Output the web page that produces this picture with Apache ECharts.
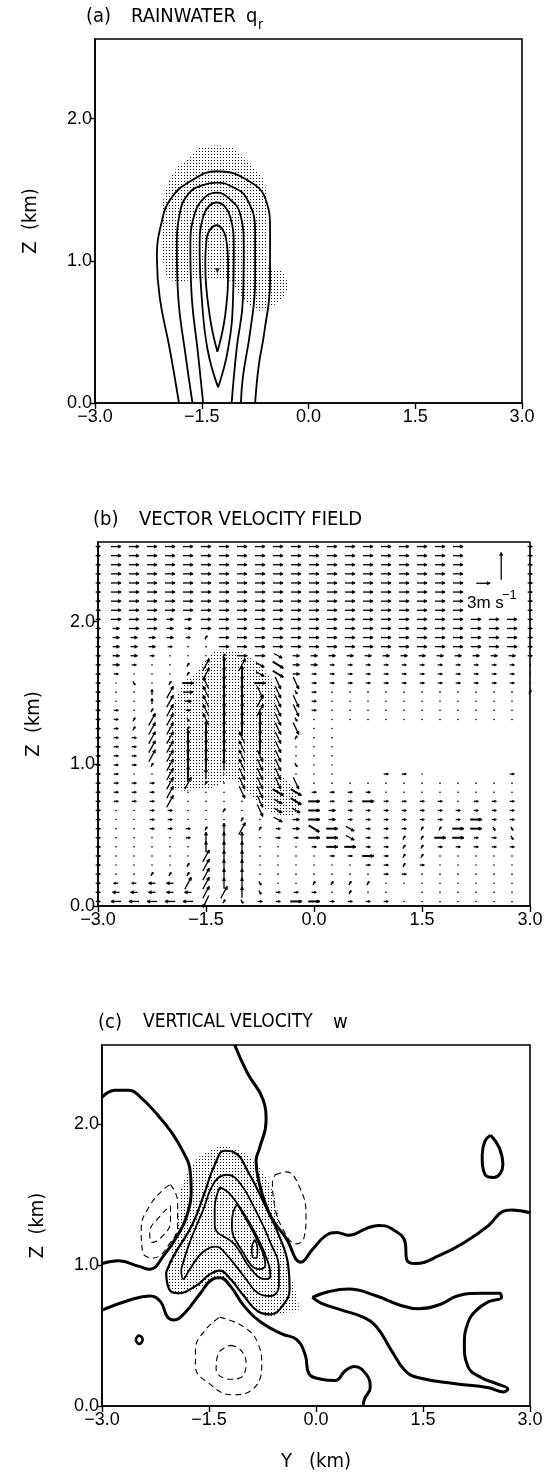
<!DOCTYPE html>
<html>
<head>
<meta charset="utf-8">
<script src="https://cdn.jsdelivr.net/npm/echarts@6.0.0/dist/echarts.min.js"></script>
<style>
html, body { margin: 0; padding: 0; background: #fff; }
#chart { width: 548px; height: 1476px; }
</style>
</head>
<body>
<div id="chart"></div>
<script>
// axis ticks
var xTicks = [-3, -1.5, 0, 1.5, 3];
var zTicks = [0, 1, 2];

// (a) rainwater contours, [Y km, Z km]
var qr1 = [[-1.82,0],[-1.95,0.38],[-2.09,0.74],[-2.13,1.02],[-2.06,1.28],[-1.93,1.44],[-1.66,1.56],[-1.29,1.63],[-0.87,1.57],[-0.60,1.43],[-0.54,1.21],[-0.54,0.86],[-0.62,0.50],[-0.70,0.26],[-0.75,0]];
var qr2 = [[-1.63,0],[-1.74,0.38],[-1.83,0.74],[-1.85,1.09],[-1.81,1.33],[-1.69,1.47],[-1.50,1.53],[-1.29,1.55],[-1.07,1.52],[-0.87,1.44],[-0.75,1.21],[-0.75,0.86],[-0.82,0.50],[-0.92,0.19],[-0.95,0]];
var qr3 = [[-1.48,0],[-1.56,0.38],[-1.64,0.74],[-1.66,1.09],[-1.60,1.33],[-1.45,1.45],[-1.29,1.48],[-1.12,1.44],[-0.96,1.33],[-0.91,1.09],[-0.92,0.74],[-1.01,0.38],[-1.08,0]];
var qr4 = [[-1.27,0.11],[-1.42,0.38],[-1.50,0.74],[-1.53,1.09],[-1.48,1.31],[-1.29,1.41],[-1.10,1.31],[-1.05,1.09],[-1.06,0.74],[-1.13,0.38],[-1.27,0.11]];
var qr5 = [[-1.28,0.36],[-1.39,0.62],[-1.45,0.97],[-1.43,1.16],[-1.29,1.25],[-1.16,1.16],[-1.13,0.97],[-1.17,0.62],[-1.28,0.36]];
var qrMax = [[-1.28, 0.93]];
var cloudA = [[-1.50,1.80],[-1.10,1.80],[-0.85,1.70],[-0.62,1.55],[-0.57,1.20],[-0.55,0.95],[-0.35,0.92],[-0.30,0.80],[-0.40,0.72],[-0.65,0.65],[-0.75,0.66],[-0.95,0.75],[-1.10,0.86],[-1.45,0.87],[-1.95,0.87],[-2.05,1.05],[-2.05,1.40],[-1.90,1.62],[-1.70,1.72]];

// (b) vector field: columns Y = -3.0 .. 3.0 step 0.25, rows Z = 2.528 .. 0.032 step 0.064
var colY = [-3,-2.75,-2.5,-2.25,-2,-1.75,-1.5,-1.25,-1,-0.75,-0.5,-0.25,0,0.25,0.5,0.75,1,1.25,1.5,1.75,2,2.25,2.5,2.75,3];
var rowZ = [2.528,2.464,2.4,2.336,2.272,2.208,2.144,2.08,2.016,1.952,1.888,1.824,1.76,1.696,1.632,1.568,1.504,1.44,1.376,1.312,1.248,1.184,1.12,1.056,0.992,0.928,0.864,0.8,0.736,0.672,0.608,0.544,0.48,0.416,0.352,0.288,0.224,0.16,0.096,0.032];
// one code per arrow
var vecRows = [
  "->>>>>>>>>>>>>>>>>>>>   -",
  "->>>>>>>>>>>>>>>>>>>>   -",
  "->>>>>>>>>>>>>>>>>>>>   -",
  "->>>>>>>>>>>>>>>>>>>>   -",
  "->>>>>>>>>>>>>>>>>>>>   -",
  "->>>>>>>>>>>>>>>>>>>>   -",
  "->>>>>>>>>>>>>>>>>>>>   -",
  "->>>>>>>>>>>>>>>>>>>>   -",
  "->>>==>>>>>>>>>>>>>>>>>>-",
  "-=>>==>>>>>>>>>>>>>>>>>>-",
  "-====-,>>>>>>>>>>>>>>>>>-",
  "-===-..>>>>>>>>>>>>>>>>>-",
  "-==-...,>>v=============-",
  "-=-..,/|/vV==-----------.",
  "--...,/||vV=------------.",
  "-.l.,#j||#kk------------.",
  "-..i/>j||kkl-...........,",
  "-..i/=j||/kk-........... ",
  "--.,/-j||/kk-........... ",
  "--,//lj|||kl............ ",
  "--,//,||||kk..           ",
  "---//|||j|k,..           ",
  "---//|||j|k...           ",
  "---//|||jkk...           ",
  "---,/||!jkkl..           ",
  "--../|!.kkk...  --.    - ",
  "----//,.kkkk............ ",
  "----/...kkVV----........ ",
  "----/....kvV#--#----.--- ",
  "-..--..,.kvv#=---------- ",
  "-..--...,.v=#=-------#-- ",
  "-..---,!/,-=V#v---,,##ll ",
  "-....-!!!.--##v--,,##--l ",
  "-.....!!!...-##--,,----- ",
  "-...../!!....--#-,,..... ",
  "-....,/!!......--,-..... ",
  "-..,,,/!!.......--...... ",
  "-~~{{//!!l..,,,,........ ",
  "-{{{{{//!l---.,.. ...... ",
  "-<<<<<d,l--##----....... "
];
// code -> [u, w] in m/s
var vecCode = {
  '.': [0, 0], '-': [1.0, 0], '=': [1.5, 0], '>': [2.2, 0], '#': [2.5, 0],
  '<': [-2.2, 0], '~': [-1.0, 0], '{': [-1.5, 0],
  '|': [0.1, 1.7], '!': [0, 1.2], 'i': [0, 0.6],
  '/': [1.4, 1.3], ',': [0.5, 0.4], 'k': [1.2, -1.3], 'l': [0.5, -0.4],
  'j': [-1.2, 1.3], 'd': [-1.2, -1.3], 'v': [1.8, -0.5], 'V': [2.3, -0.7]
};
var heavyCodes = '#V|';
var legendVec = [[2.35, 2.27, 3, 0], [2.60, 2.39, 0, 3]];
var cloudB = [[-1.33,1.80],[-1.04,1.79],[-0.75,1.70],[-0.60,1.60],[-0.53,1.51],[-0.52,1.20],[-0.50,0.95],[-0.31,0.85],[-0.21,0.70],[-0.30,0.64],[-0.60,0.66],[-0.94,0.80],[-1.14,0.89],[-1.43,0.83],[-1.97,0.83],[-2.02,1.04],[-1.97,1.39],[-1.82,1.56],[-1.63,1.65],[-1.48,1.74]];

// (c) vertical velocity contours
var wZeroA = [[-1.14,2.56],[-0.96,2.36],[-0.74,2.17],[-0.70,2.02],[-0.79,1.83],[-0.84,1.74],[-0.80,1.59],[-0.64,1.35],[-0.42,1.19],[-0.21,1.02],[-0.05,1.11],[0.14,1.21],[0.29,1.23],[0.46,1.21],[0.71,1.26],[0.88,1.28],[1.05,1.26],[1.25,1.16],[1.27,1.04],[1.39,1.01],[1.74,1.07],[2.08,1.16],[2.42,1.28],[2.62,1.38],[2.74,1.39],[3.0,1.37]];
var wZeroB = [[-3.0,2.19],[-2.82,2.24],[-2.62,2.24],[-2.48,2.20],[-2.23,2.07],[-2.01,1.93],[-1.84,1.78],[-1.77,1.69],[-1.75,1.54],[-1.81,1.35],[-1.94,1.21],[-2.13,1.07],[-2.33,0.97],[-2.48,0.99],[-2.77,1.03],[-3.0,1.01]];
var wZeroC = [[-3.0,0.68],[-2.62,0.75],[-2.33,0.78],[-2.18,0.74],[-2.08,0.63],[-1.99,0.61],[-1.84,0.66],[-1.62,0.80],[-1.45,0.90],[-1.35,0.91],[-1.20,0.85],[-1.01,0.71],[-0.76,0.59],[-0.47,0.51],[-0.27,0.47],[-0.15,0.36],[-0.10,0.23],[0.07,0.19],[0.27,0.18],[0.41,0.25],[0.54,0.28],[0.71,0.22],[0.76,0.13],[0.68,0.05],[0.66,0]];
var wZeroD = [[-0.05,0.77],[0.17,0.81],[0.46,0.83],[0.85,0.78],[1.15,0.72],[1.44,0.69],[1.74,0.72],[1.98,0.78],[2.32,0.80],[2.57,0.80],[2.60,0.77],[2.42,0.74],[2.25,0.68],[2.13,0.59],[2.08,0.44],[2.13,0.28],[2.32,0.20],[2.52,0.16],[2.69,0.12],[2.62,0.10],[2.42,0.13],[1.93,0.16],[1.44,0.20],[1.25,0.25],[1.05,0.40],[0.85,0.56],[0.66,0.63],[0.36,0.68],[0.07,0.73],[-0.05,0.77]];
var wZeroE = [[2.45,1.92],[2.57,1.83],[2.62,1.71],[2.49,1.62],[2.37,1.64],[2.33,1.78],[2.37,1.88],[2.45,1.92]];
var wZeroF = [[-2.53,0.47],[-2.48,0.50],[-2.43,0.47],[-2.48,0.44],[-2.53,0.47]];
var wPos1 = [[-2.10,0.95],[-1.99,1.07],[-1.74,1.28],[-1.57,1.50],[-1.42,1.71],[-1.28,1.81],[-1.15,1.80],[-0.93,1.64],[-0.74,1.45],[-0.52,1.21],[-0.39,1.0],[-0.37,0.83],[-0.47,0.71],[-0.64,0.65],[-0.81,0.67],[-1.01,0.78],[-1.20,0.90],[-1.35,0.96],[-1.50,0.93],[-1.69,0.85],[-1.94,0.80],[-2.06,0.83],[-2.10,0.95]];
var wPos2 = [[-1.89,0.97],[-1.77,1.16],[-1.59,1.38],[-1.42,1.59],[-1.25,1.64],[-1.08,1.59],[-0.86,1.40],[-0.64,1.16],[-0.52,0.97],[-0.52,0.85],[-0.64,0.78],[-0.81,0.80],[-1.01,0.92],[-1.25,1.07],[-1.40,1.13],[-1.59,1.09],[-1.77,0.97],[-1.86,0.90],[-1.89,0.97]];
var wPos3 = [[-1.35,1.55],[-1.20,1.50],[-0.91,1.28],[-0.71,1.07],[-0.64,0.92],[-0.71,0.90],[-0.91,0.97],[-1.13,1.14],[-1.42,1.28],[-1.42,1.40],[-1.35,1.55]];
var wPos4 = [[-1.10,1.43],[-1.01,1.35],[-0.81,1.16],[-0.71,1.00],[-0.79,0.97],[-1.06,1.12],[-1.18,1.28],[-1.16,1.38],[-1.10,1.43]];
var wPos5 = [[-0.86,1.18],[-0.82,1.12],[-0.83,1.05],[-0.88,1.05],[-0.90,1.12],[-0.86,1.18]];
var wNeg1 = [[-2.04,1.57],[-1.94,1.45],[-1.94,1.28],[-2.04,1.16],[-2.28,1.05],[-2.43,1.09],[-2.45,1.26],[-2.33,1.42],[-2.13,1.54],[-2.04,1.57]];
var wNeg2 = [[-2.04,1.42],[-2.04,1.31],[-2.18,1.19],[-2.30,1.16],[-2.33,1.23],[-2.18,1.35],[-2.04,1.42]];
var wNeg3 = [[-0.57,1.64],[-0.42,1.66],[-0.22,1.54],[-0.14,1.35],[-0.17,1.19],[-0.27,1.15],[-0.47,1.26],[-0.59,1.45],[-0.61,1.59],[-0.57,1.64]];
var wNeg4 = [[-1.35,0.63],[-1.01,0.56],[-0.81,0.44],[-0.76,0.28],[-0.91,0.11],[-1.18,0.08],[-1.50,0.16],[-1.69,0.28],[-1.69,0.40],[-1.55,0.54],[-1.35,0.63]];
var wNeg5 = [[-1.20,0.43],[-1.06,0.40],[-0.98,0.30],[-1.06,0.20],[-1.20,0.19],[-1.40,0.26],[-1.37,0.37],[-1.20,0.43]];
var cloudC = [[-1.29,1.84],[-1.00,1.79],[-0.75,1.66],[-0.57,1.47],[-0.48,1.15],[-0.35,0.92],[-0.28,0.80],[-0.25,0.68],[-0.45,0.66],[-0.71,0.64],[-0.95,0.76],[-1.20,0.88],[-1.40,0.91],[-1.55,0.86],[-1.90,0.79],[-2.08,0.85],[-2.05,1.05],[-1.94,1.30],[-1.89,1.54],[-1.69,1.74],[-1.50,1.81]];

var K = 0.064; // km of arrow per m/s
var FONT = '"DejaVu Sans Condensed", "Liberation Sans Narrow", "Liberation Sans", sans-serif';
var NUMFONT = '"Liberation Sans", "DejaVu Sans", sans-serif';

var dom = document.getElementById('chart');
var myChart = echarts.init(dom, null, { renderer: 'canvas' });

// dot pattern for the shaded cloud area
var pc = document.createElement('canvas');
pc.width = 3; pc.height = 3;
var g = pc.getContext('2d');
g.fillStyle = '#000';
g.fillRect(1, 1, 1, 1);
var dots = { image: pc, repeat: 'repeat' };

function fmt(v) {
    return (v < 0 ? '\u2212' : '') + Math.abs(v).toFixed(1);
}

function xAx(gi, name) {
    return {
        type: 'value', gridIndex: gi, min: -3, max: 3, interval: 1.5,
        name: name || '', nameLocation: 'middle', nameGap: 46,
        nameTextStyle: { color: '#000', fontSize: 20, fontFamily: FONT },
        axisLine: { onZero: false, lineStyle: { color: '#000', width: 1.6 } },
        axisTick: { length: 6, lineStyle: { color: '#000', width: 1.4 } },
        axisLabel: { color: '#000', fontSize: 18, fontFamily: NUMFONT, margin: 5, formatter: fmt },
        splitLine: { show: false }
    };
}

function zAx(gi) {
    return {
        type: 'value', gridIndex: gi, min: 0, max: 2.56, interval: 1,
        name: 'Z  (km)', nameLocation: 'middle', nameGap: 54, nameRotate: 90,
        nameTextStyle: { color: '#000', fontSize: 20, fontFamily: FONT },
        axisLine: { onZero: false, lineStyle: { color: '#000', width: 1.6 } },
        axisTick: { length: 5, customValues: zTicks, lineStyle: { color: '#000', width: 1.4 } },
        axisLabel: { color: '#000', fontSize: 18, fontFamily: NUMFONT, margin: 3, customValues: zTicks, formatter: fmt },
        splitLine: { show: false }
    };
}

function contour(gi, data, w, dashed) {
    return {
        type: 'line', xAxisIndex: gi, yAxisIndex: gi, data: data,
        smooth: 0.45, showSymbol: false, symbol: 'none', silent: true, z: 4,
        lineStyle: { color: '#000', width: w, type: dashed ? [6, 4] : 'solid' }
    };
}

function shade(gi, poly) {
    return {
        type: 'custom', xAxisIndex: gi, yAxisIndex: gi, silent: true, z: 2,
        data: [poly[0]],
        renderItem: function (params, api) {
            var pts = poly.map(function (p) { return api.coord(p); });
            return { type: 'polygon', shape: { points: pts, smooth: 0.3 }, style: { fill: dots } };
        }
    };
}

function renderVec(params, api) {
    var y = api.value(0), z = api.value(1), u = api.value(2), w = api.value(3), hv = api.value(4);
    var a = api.coord([y - u * K / 2, z - w * K / 2]);
    var b = api.coord([y + u * K / 2, z + w * K / 2]);
    var dx = b[0] - a[0], dy = b[1] - a[1];
    var L = Math.sqrt(dx * dx + dy * dy);
    if (L < 1.5) {
        var c = api.coord([y, z]);
        return { type: 'circle', shape: { cx: c[0], cy: c[1], r: 0.8 }, style: { fill: '#000' } };
    }
    var ux = dx / L, uy = dy / L, h = Math.min(3.2, 0.45 * L);
    var cs = Math.cos(0.5), sn = Math.sin(0.5);
    var h1 = [b[0] - h * (ux * cs - uy * sn), b[1] - h * (uy * cs + ux * sn)];
    var h2 = [b[0] - h * (ux * cs + uy * sn), b[1] - h * (uy * cs - ux * sn)];
    return {
        type: 'group',
        children: [
            { type: 'line', shape: { x1: a[0], y1: a[1], x2: b[0], y2: b[1] }, style: { stroke: '#000', lineWidth: hv ? 2.0 : 1.3 } },
            { type: 'polygon', shape: { points: [h1, b, h2] }, style: { fill: '#000', stroke: '#000', lineWidth: 0.8 } }
        ]
    };
}

// vector table from the row codes
var vecData = [];
vecRows.forEach(function (row, r) {
    for (var k = 0; k < colY.length; k++) {
        var ch = row.charAt(k);
        if (!ch || ch === ' ' || !vecCode[ch]) continue;
        vecData.push([colY[k], rowZ[r], vecCode[ch][0], vecCode[ch][1], heavyCodes.indexOf(ch) >= 0 ? 1 : 0]);
    }
});
var legendData = legendVec.map(function (v) { return [v[0], v[1], v[2], v[3], 0]; });

function txt(x, y, s, size, font) {
    return { type: 'text', left: x, top: y, silent: true, style: { text: s, font: size + 'px ' + (font || FONT), fill: '#000' } };
}

var option = {
    animation: false,
    backgroundColor: '#fff',
    grid: [
        { left: 95, top: 39, width: 427, height: 364, show: true, borderColor: '#000', borderWidth: 1.6, outerBoundsMode: 'none' },
        { left: 98, top: 542, width: 432, height: 364, show: true, borderColor: '#000', borderWidth: 1.6, outerBoundsMode: 'none' },
        { left: 102, top: 1045, width: 428, height: 361, show: true, borderColor: '#000', borderWidth: 1.6, outerBoundsMode: 'none' }
    ],
    xAxis: [xAx(0), xAx(1), xAx(2, 'Y   (km)')],
    yAxis: [zAx(0), zAx(1), zAx(2)],
    graphic: [
        txt(86, 7, '(a)', 20), txt(131, 7, 'RAINWATER', 20), txt(246, 7, 'q', 20), txt(258, 18, 'r', 14),
        txt(93, 510, '(b)', 20), txt(139, 510, 'VECTOR VELOCITY FIELD', 20),
        txt(467, 595, '3m s', 17, NUMFONT), txt(502, 589, '\u22121', 13, NUMFONT),
        txt(98, 1013, '(c)', 20), txt(143, 1013, 'VERTICAL VELOCITY', 19), txt(333, 1013, 'w', 20)
    ],
    series: [
        shade(0, cloudA),
        contour(0, qr1, 1.8), contour(0, qr2, 1.8), contour(0, qr3, 1.8), contour(0, qr4, 1.8), contour(0, qr5, 1.8),
        {
            type: 'scatter', xAxisIndex: 0, yAxisIndex: 0, data: qrMax, symbol: 'triangle',
            symbolRotate: 180, symbolSize: 5, itemStyle: { color: '#000' }, silent: true, z: 5
        },
        shade(1, cloudB),
        {
            type: 'custom', xAxisIndex: 1, yAxisIndex: 1, data: vecData, silent: true, z: 5, clip: false,
            dimensions: ['y', 'z', 'u', 'w', 'heavy'], encode: { x: 0, y: 1 }, renderItem: renderVec
        },
        {
            type: 'custom', xAxisIndex: 1, yAxisIndex: 1, data: legendData, silent: true, z: 5,
            dimensions: ['y', 'z', 'u', 'w', 'heavy'], encode: { x: 0, y: 1 }, renderItem: renderVec
        },
        shade(2, cloudC),
        contour(2, wZeroA, 3), contour(2, wZeroB, 3), contour(2, wZeroC, 3), contour(2, wZeroD, 3),
        contour(2, wZeroE, 3), contour(2, wZeroF, 2.6),
        contour(2, wPos1, 2.2), contour(2, wPos2, 1.8), contour(2, wPos3, 1.8), contour(2, wPos4, 1.8), contour(2, wPos5, 1.6),
        contour(2, wNeg1, 1.1, true), contour(2, wNeg2, 1.1, true), contour(2, wNeg3, 1.1, true),
        contour(2, wNeg4, 1.1, true), contour(2, wNeg5, 1.1, true)
    ]
};
myChart.setOption(option, true);
</script>
</body>
</html>
